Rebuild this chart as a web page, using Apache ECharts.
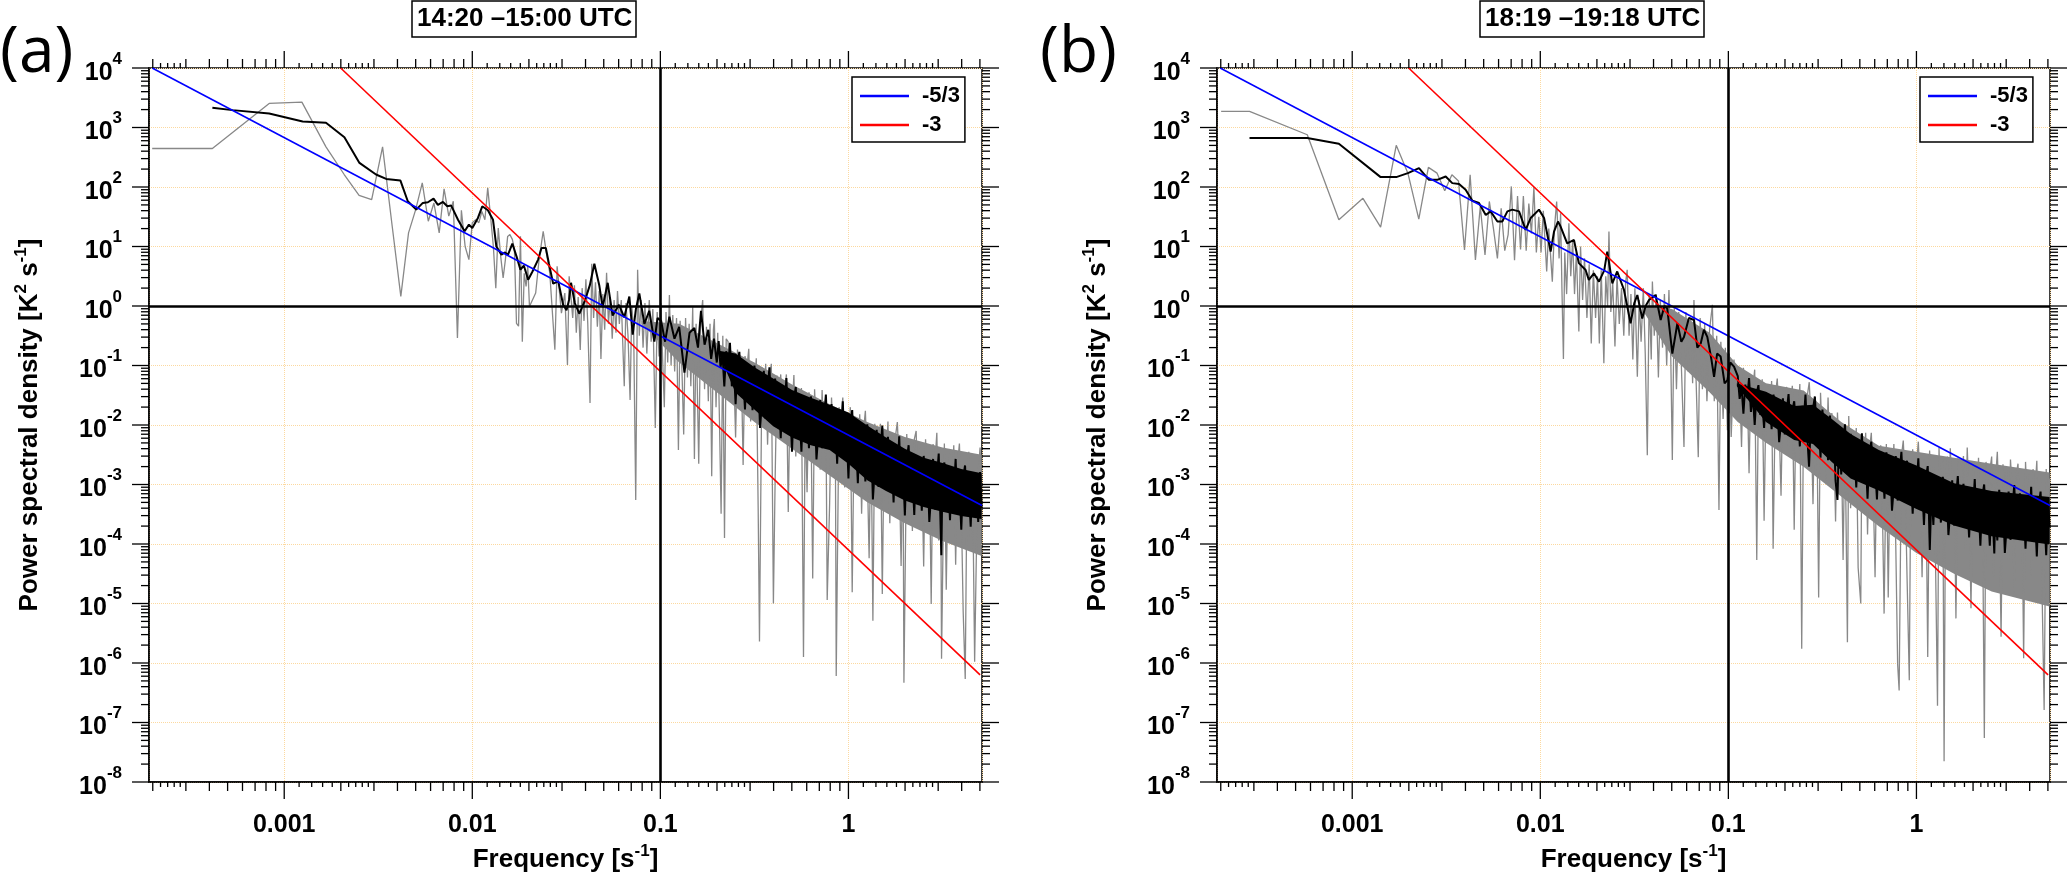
<!DOCTYPE html>
<html>
<head>
<meta charset="utf-8">
<script src="https://cdn.jsdelivr.net/npm/echarts@6.0.0/dist/echarts.min.js"></script>
<style>
html, body { margin: 0; padding: 0; background: #fff; }
#chart { width: 2067px; height: 881px; }
</style>
</head>
<body>
<div id="chart"></div>
<script>
// all spectra as [log10 frequency, log10 PSD]
var grayA = [
[-3.702,2.647],[-3.382,2.647],[-3.080,3.404],[-2.906,3.426],[-2.778,2.675],[-2.681,2.21],[-2.602,1.861],[-2.535,1.789],
[-2.477,2.675],[-2.426,1.345],[-2.380,0.162],[-2.339,1.228],[-2.301,1.62],[-2.266,2.069],[-2.234,1.424],[-2.204,1.73],
[-2.176,1.228],[-2.150,1.968],[-2.125,1.51],[-2.101,1.76],[-2.079,-0.539],[-2.058,1.61],[-2.038,1.0],[-2.018,0.78],
[-2.000,1.40],[-1.982,1.45],[-1.965,1.40],[-1.949,1.59],[-1.933,1.45],[-1.918,1.985],[-1.903,1.51],[-1.888,1.0],
[-1.875,0.30],[-1.862,1.31],[-1.849,0.835],[-1.836,0.47],[-1.824,0.78],[-1.812,1.17],[-1.800,1.2],[-1.787,1.12],
[-1.776,0.95],[-1.765,-0.29],[-1.754,-0.34],[-1.744,1.17],[-1.734,-0.6],[-1.724,0.55],[-1.714,0.33],[-1.705,0.67],
[-1.696,-0.01],[-1.663,0.218],[-1.645,0.78],[-1.623,1.256],[-1.606,0.89],[-1.588,0.555],[-1.561,-0.735],[-1.549,0.667],
[-1.526,-0.12],[-1.508,0.218],[-1.494,-0.99],[-1.485,0.50],
[-1.475,0.53],[-1.466,-0.20],[-1.457,0.35],[-1.447,-0.45],[-1.437,0.15],[-1.426,-0.74],[-1.416,0.30],[-1.406,-0.25],
[-1.396,0.45],[-1.386,-0.30],[-1.374,-1.63],[-1.365,0.71],[-1.355,-0.20],[-1.345,0.40],[-1.335,-0.35],[-1.325,0.25],
[-1.316,-0.89],[-1.306,0.20],[-1.296,-0.40],[-1.286,0.56],[-1.276,-0.30],[-1.266,0.15],[-1.256,-0.55],[-1.246,0.10],
[-1.236,-0.45],[-1.228,0.25],[-1.218,-0.30],[-1.208,0.10],[-1.192,-1.35],[-1.183,0.05],[-1.172,-0.50],[-1.161,-1.58],
[-1.152,0.00],[-1.142,-0.40],[-1.131,-3.26],[-1.121,0.61],[-1.112,-0.50],[-1.102,0.10],[-1.092,-0.70],[-1.082,0.05],
[-1.072,-0.80],[-1.059,0.10],[-1.049,-0.60],[-1.040,-0.05],[-1.027,-2.05],[-1.017,-0.10],[-1.007,-0.85],[-0.997,0.05],
[-0.988,-0.90],[-0.979,-1.70],[-0.970,-0.10],[-0.961,-0.95],[-0.952,0.185],[-0.943,-1.00],[-0.934,-0.15],[-0.924,-1.10],
[-0.914,-0.20],[-0.904,-2.42],[-0.895,-0.25],[-0.885,-1.10],[-0.876,-2.16],[-0.866,-0.20],[-0.856,-1.20],[-0.847,-0.30],
[-0.838,-1.35],[-0.828,-0.02],[-0.819,-2.57],[-0.810,-0.30],[-0.796,-2.65],[-0.786,-0.25],[-0.775,0.10],[-0.765,-1.40],
[-0.755,-0.35],[-0.745,-1.60],[-0.736,-0.30],[-0.727,-2.86],[-0.718,-0.40],[-0.713,-0.22],[-0.704,-1.70],[-0.695,-0.45],
[-0.686,-1.90],[-0.677,-3.49],[-0.668,-0.50],[-0.659,-3.90],[-0.650,-0.55],
[-0.64,-0.60],[-0.63,-1.47],[-0.62,-0.78],[-0.61,-1.05],[-0.60,-2.21],[-0.59,-0.73],[-0.58,-1.34],[-0.57,-0.96],[-0.56,-2.67],[-0.55,-0.84],
[-0.54,-1.05],[-0.53,-0.72],[-0.52,-1.94],[-0.51,-1.00],[-0.50,-1.37],[-0.49,-0.88],[-0.48,-3.40],[-0.473,-5.64],[-0.46,-1.03],[-0.45,-1.70],
[-0.44,-0.97],[-0.43,-2.33],[-0.42,-1.20],[-0.41,-0.97],[-0.399,-5.00],[-0.39,-2.95],[-0.38,-1.17],[-0.37,-1.48],[-0.36,-1.15],[-0.35,-2.17],
[-0.34,-1.48],[-0.33,-1.15],[-0.32,-3.46],[-0.31,-1.43],[-0.30,-1.80],[-0.29,-1.16],[-0.28,-2.53],[-0.27,-1.45],[-0.26,-2.16],[-0.25,-1.38],
[-0.239,-5.90],[-0.23,-1.81],[-0.22,-3.13],[-0.21,-1.45],[-0.20,-1.66],[-0.19,-4.58],[-0.18,-1.40],[-0.17,-2.21],[-0.16,-1.63],[-0.15,-2.75],
[-0.14,-1.41],[-0.13,-2.48],[-0.12,-1.64],[-0.113,-4.94],[-0.10,-3.32],[-0.09,-1.54],[-0.08,-2.31],[-0.07,-1.82],[-0.065,-6.22],[-0.05,-1.70],
[-0.04,-1.97],[-0.03,-1.54],[-0.02,-3.05],[-0.01,-1.87],[0.00,-2.33],[0.01,-1.70],[0.02,-4.81],[0.03,-2.13],[0.04,-1.89],[0.05,-2.71],
[0.06,-1.82],[0.07,-3.49],[0.08,-2.10],[0.09,-1.76],[0.10,-2.72],[0.11,-4.24],[0.12,-2.00],[0.13,-5.29],[0.14,-1.98],[0.15,-3.25],
[0.16,-2.36],[0.17,-1.98],[0.18,-4.84],[0.19,-2.26],[0.20,-2.77],[0.21,-1.94],[0.22,-3.65],[0.23,-2.27],[0.24,-3.13],[0.25,-2.19],
[0.26,-1.95],[0.27,-2.71],[0.28,-4.37],[0.29,-2.28],[0.295,-6.33],[0.31,-2.15],[0.32,-3.11],[0.33,-2.42],[0.34,-3.78],[0.35,-2.24],
[0.36,-2.10],[0.37,-3.36],[0.38,-2.37],[0.39,-2.72],[0.40,-4.38],[0.41,-2.24],[0.42,-3.10],[0.43,-2.55],[0.44,-5.01],[0.45,-2.32],
[0.46,-2.63],[0.47,-2.13],[0.48,-3.94],[0.49,-2.50],[0.495,-5.93],[0.51,-2.31],[0.52,-4.77],[0.53,-2.77],[0.54,-2.48],[0.55,-3.44],
[0.56,-2.34],[0.57,-4.35],[0.58,-2.66],[0.59,-2.31],[0.60,-3.37],[0.61,-5.13],[0.621,-6.27],[0.63,-3.04],[0.64,-2.45],[0.65,-3.95],
[0.66,-2.91],[0.671,-5.98],[0.68,-4.20],[0.69,-2.78],[0.70,-2.38],[0.708,-3.28]
];
var blackA = [
[-3.382,3.331],[-3.275,3.292],[-3.080,3.236],[-2.902,3.10],[-2.778,3.08],[-2.680,2.837],[-2.600,2.405],[-2.512,2.21],
[-2.458,2.136],[-2.382,2.108],[-2.343,1.76],[-2.298,1.62],[-2.263,1.733],[-2.236,1.744],[-2.206,1.805],[-2.183,1.70],
[-2.156,1.749],[-2.133,1.676],[-2.112,1.688],[-2.076,1.45],[-2.041,1.256],[-2.018,1.368],[-2.000,1.31],[-1.970,1.48],
[-1.947,1.676],[-1.917,1.61],[-1.890,1.45],[-1.872,1.0],[-1.845,0.863],[-1.828,0.90],[-1.810,0.863],[-1.787,1.05],
[-1.765,0.835],[-1.744,0.61],[-1.726,0.68],[-1.703,0.44],[-1.680,0.58],[-1.650,0.78],[-1.632,0.975],[-1.609,0.975],
[-1.593,0.72],[-1.570,0.375],[-1.543,0.415],[-1.517,0.02],[-1.499,-0.07],[-1.485,0.11],
[-1.475,0.39],[-1.455,0.05],[-1.431,-0.13],[-1.400,0.10],[-1.375,0.35],[-1.351,0.71],[-1.325,0.35],[-1.307,-0.02],
[-1.280,0.39],[-1.254,-0.16],[-1.220,0.02],[-1.192,-0.19],[-1.165,0.16],[-1.147,-0.48],[-1.130,-0.05],[-1.112,0.21],
[-1.085,-0.30],[-1.059,-0.08],[-1.032,-0.60],[-1.015,-0.20],[-0.996,-0.25],[-0.975,-0.60],[-0.952,-0.18],[-0.925,-0.55],
[-0.900,-0.35],[-0.872,-1.12],[-0.845,-0.45],[-0.819,-0.37],[-0.800,-0.70],[-0.784,-0.08],[-0.765,-0.65],[-0.745,-0.40],
[-0.730,-0.89],[-0.715,-0.55],[-0.700,-0.95],
[-0.69,-0.59],[-0.68,-1.04],[-0.67,-0.80],[-0.66,-1.35],[-0.65,-0.76],[-0.64,-1.06],[-0.63,-0.62],[-0.62,-1.35],[-0.61,-0.99],[-0.60,-1.65],
[-0.59,-0.95],[-0.58,-0.77],[-0.57,-1.44],[-0.56,-1.17],[-0.55,-1.74],[-0.54,-0.96],[-0.53,-1.40],[-0.52,-1.16],[-0.51,-1.75],[-0.50,-1.00],
[-0.49,-1.42],[-0.48,-1.15],[-0.47,-2.05],[-0.46,-1.63],[-0.45,-1.09],[-0.44,-1.90],[-0.43,-1.41],[-0.42,-1.03],[-0.41,-1.80],[-0.40,-1.43],
[-0.39,-1.22],[-0.38,-1.83],[-0.37,-1.49],[-0.36,-2.22],[-0.35,-1.42],[-0.34,-1.78],[-0.33,-1.21],[-0.32,-2.11],[-0.31,-1.66],[-0.30,-2.45],
[-0.29,-1.57],[-0.28,-1.36],[-0.27,-2.13],[-0.26,-1.79],[-0.25,-2.45],[-0.24,-1.53],[-0.23,-2.00],[-0.22,-1.72],[-0.21,-2.39],[-0.20,-1.52],
[-0.19,-1.93],[-0.18,-1.65],[-0.17,-2.58],[-0.16,-2.14],[-0.15,-1.58],[-0.14,-2.39],[-0.13,-1.88],[-0.12,-1.49],[-0.11,-2.26],[-0.10,-1.86],
[-0.09,-1.65],[-0.08,-2.26],[-0.07,-1.91],[-0.06,-2.65],[-0.05,-1.82],[-0.04,-2.19],[-0.03,-1.60],[-0.02,-2.54],[-0.01,-2.05],[0.00,-2.90],
[0.01,-1.99],[0.02,-1.75],[0.03,-2.61],[0.04,-2.24],[0.05,-2.98],[0.06,-1.96],[0.07,-2.50],[0.08,-2.20],[0.09,-2.95],[0.10,-1.99],
[0.11,-2.47],[0.12,-2.16],[0.13,-3.25],[0.14,-2.73],[0.15,-2.08],[0.16,-3.04],[0.17,-2.46],[0.18,-2.01],[0.19,-2.90],[0.20,-2.45],
[0.21,-2.20],[0.22,-2.87],[0.23,-2.50],[0.24,-3.30],[0.25,-2.41],[0.26,-2.82],[0.27,-2.19],[0.28,-3.18],[0.29,-2.68],[0.30,-3.52],
[0.31,-2.58],[0.32,-2.34],[0.33,-3.17],[0.34,-2.81],[0.35,-3.51],[0.36,-2.53],[0.37,-3.04],[0.38,-2.74],[0.39,-3.44],[0.40,-2.52],
[0.41,-2.95],[0.42,-2.66],[0.43,-3.63],[0.44,-3.16],[0.45,-2.57],[0.46,-3.42],[0.47,-2.89],[0.48,-2.48],[0.494,-4.19],[0.50,-2.86],
[0.51,-2.63],[0.52,-3.23],[0.53,-2.88],[0.54,-3.60],[0.55,-2.79],[0.56,-3.15],[0.57,-2.57],[0.58,-3.47],[0.59,-3.00],[0.60,-3.76],
[0.61,-2.89],[0.62,-2.68],[0.63,-3.41],[0.64,-3.08],[0.65,-3.71],[0.66,-2.82],[0.67,-3.28],[0.68,-3.00],[0.69,-3.63],[0.70,-2.79],
[0.708,-3.40]
];
// [log10 f, upper, lower] of the solid-looking core of each dense trace
var grayBandA = [[-1.10,-0.25,-0.30],[-0.90,-0.30,-0.95],[-0.70,-0.62,-1.45],[-0.50,-0.95,-1.95],[-0.30,-1.32,-2.40],
  [-0.10,-1.65,-2.85],[0.10,-1.95,-3.30],[0.30,-2.20,-3.65],[0.50,-2.38,-3.95],[0.708,-2.50,-4.20]];
var blackBandA = [[-0.69,-0.75,-0.80],[-0.60,-0.80,-1.46],[-0.50,-1.03,-1.74],[-0.40,-1.22,-2.02],[-0.30,-1.41,-2.21],
  [-0.20,-1.54,-2.34],[-0.10,-1.66,-2.42],[0.00,-1.79,-2.65],[0.10,-2.01,-2.93],[0.20,-2.21,-3.11],[0.30,-2.40,-3.27],
  [0.40,-2.55,-3.38],[0.50,-2.64,-3.46],[0.60,-2.74,-3.53],[0.708,-2.81,-3.58]];

var grayB = [
[-3.697,3.271],[-3.546,3.271],[-3.239,2.878],[-3.071,1.448],[-2.943,1.81],[-2.849,1.325],[-2.766,2.70],[-2.704,2.233],
[-2.646,1.46],[-2.595,2.33],[-2.549,2.233],[-2.508,1.936],[-2.470,2.205],[-2.435,2.10],[-2.403,0.943],[-2.373,2.205],
[-2.345,0.775],[-2.319,1.672],[-2.294,0.859],[-2.271,1.757],[-2.249,1.30],[-2.228,0.80],[-2.208,1.64],[-2.189,0.93],
[-2.171,1.2],[-2.154,2.01],[-2.137,0.77],[-2.121,1.85],[-2.105,0.95],[-2.090,1.85],[-2.075,0.93],[-2.061,1.72],
[-2.047,1.22],[-2.034,2.0],[-2.021,0.9],[-2.008,1.5],[-1.996,0.9],[-1.984,1.6],[-1.966,0.58],[-1.955,1.3],
[-1.936,0.41],[-1.925,1.3],[-1.913,1.757],[-1.900,0.8],[-1.892,1.56],[-1.885,0.3],[-1.877,-0.89],[-1.870,0.9],
[-1.860,0.2],[-1.848,1.39],[-1.838,0.5],[-1.828,1.1],[-1.818,0.2],[-1.808,0.9],[-1.795,-0.43],[-1.786,1.0],
[-1.775,0.1],[-1.765,0.8],[-1.752,-0.2],[-1.740,0.7],[-1.729,-0.63],[-1.718,0.6],[-1.706,-0.2],[-1.696,0.5],
[-1.686,-0.63],[-1.676,0.6],[-1.662,-0.96],[-1.652,0.5],[-1.642,0.0],[-1.635,1.25],[-1.625,-0.1],[-1.615,0.4],
[-1.603,-0.68],[-1.592,0.5],[-1.580,-0.3],[-1.568,0.3],[-1.556,-0.5],[-1.546,0.4],[-1.538,0.61],[-1.528,-0.5],
[-1.518,0.2],[-1.508,-0.9],[-1.497,0.3],[-1.484,-1.19],[-1.474,0.1],[-1.464,-0.6],[-1.452,0.3],[-1.442,-0.8],
[-1.431,-2.51],[-1.421,0.2],[-1.410,-0.9],[-1.404,0.41],[-1.394,-0.5],[-1.384,0.2],[-1.372,-1.2],[-1.362,0.1],
[-1.350,-0.7],[-1.340,0.2],[-1.328,-1.0],[-1.316,0.27],[-1.306,-0.9],[-1.298,-2.59],[-1.288,0.0],[-1.276,-1.4],
[-1.264,-0.1],[-1.250,-1.0],[-1.236,-2.37],[-1.226,-0.1],[-1.214,-1.1],[-1.200,-0.2],[-1.190,-1.3],[-1.183,0.10],
[-1.172,-1.2],[-1.160,-2.54],[-1.150,-0.2],[-1.138,-1.4],[-1.126,-0.3],[-1.114,-1.6],[-1.100,-0.4],[-1.085,0.02],
[-1.075,-1.6],[-1.062,-0.5],[-1.050,-3.43],[-1.040,-0.6],[-1.028,-1.9],[-1.016,-0.7],[-1.005,-2.09],[-0.995,-0.8],
[-0.985,-2.2],
[-0.97,-0.90],[-0.96,-1.68],[-0.95,-1.07],[-0.94,-1.32],[-0.93,-2.37],[-0.92,-1.04],[-0.91,-1.60],[-0.90,-1.26],[-0.89,-2.81],[-0.88,-1.17],
[-0.87,-1.38],[-0.86,-1.07],[-0.849,-4.27],[-0.84,-1.35],[-0.83,-1.70],[-0.82,-1.23],[-0.81,-3.61],[-0.80,-1.52],[-0.79,-1.34],[-0.78,-1.96],
[-0.77,-1.26],[-0.762,-4.08],[-0.75,-1.49],[-0.74,-1.22],[-0.73,-1.97],[-0.72,-3.19],[-0.71,-1.40],[-0.70,-1.73],[-0.69,-1.36],[-0.68,-2.37],
[-0.67,-1.67],[-0.66,-1.34],[-0.65,-3.76],[-0.64,-1.58],[-0.63,-1.99],[-0.62,-1.31],[-0.610,-5.76],[-0.60,-1.55],[-0.59,-2.30],[-0.58,-1.50],
[-0.57,-1.28],[-0.56,-1.94],[-0.55,-3.33],[-0.54,-1.53],[-0.53,-1.72],[-0.52,-4.90],[-0.51,-1.46],[-0.50,-2.33],[-0.49,-1.77],[-0.48,-2.94],
[-0.47,-1.54],[-0.46,-2.65],[-0.45,-1.80],[-0.44,-2.15],[-0.43,-3.62],[-0.42,-1.79],[-0.41,-2.58],[-0.40,-2.11],[-0.39,-4.27],[-0.38,-2.00],
[-0.367,-5.65],[-0.36,-1.85],[-0.35,-3.40],[-0.34,-2.20],[-0.33,-2.67],[-0.32,-2.05],[-0.31,-4.40],[-0.296,-5.00],[-0.29,-2.23],[-0.28,-3.08],
[-0.27,-2.13],[-0.26,-3.84],[-0.25,-2.43],[-0.24,-2.13],[-0.23,-3.05],[-0.22,-4.56],[-0.21,-2.37],[-0.20,-2.78],[-0.19,-2.34],[-0.18,-3.59],
[-0.172,-5.17],[-0.16,-2.32],[-0.15,-4.90],[-0.14,-2.61],[-0.13,-3.09],[-0.12,-2.32],[-0.11,-4.00],[-0.100,-6.02],[-0.092,-6.46],[-0.08,-2.53],
[-0.07,-2.26],[-0.06,-3.01],[-0.05,-4.55],[-0.038,-6.29],[-0.03,-2.74],[-0.02,-2.41],[-0.01,-3.35],[0.00,-2.68],[0.01,-2.28],[0.02,-3.03],
[0.03,-4.56],[0.04,-2.56],[0.05,-2.76],[0.06,-5.90],[0.07,-2.43],[0.08,-3.37],[0.09,-2.70],[0.10,-3.97],[0.112,-6.72],[0.12,-2.38],
[0.13,-3.51],[0.14,-2.59],[0.147,-7.65],[0.155,-2.92],[0.165,-2.53],[0.17,-3.83],[0.18,-2.39],[0.19,-3.24],[0.20,-2.75],[0.21,-5.25],
[0.22,-2.56],[0.23,-3.56],[0.24,-2.87],[0.25,-2.52],[0.26,-4.12],[0.27,-2.38],[0.28,-3.24],[0.29,-5.08],[0.30,-2.69],[0.31,-2.94],
[0.32,-3.60],[0.33,-2.55],[0.34,-3.70],[0.35,-2.91],[0.361,-7.26],[0.37,-2.62],[0.38,-3.82],[0.39,-2.78],[0.40,-2.53],[0.41,-4.54],
[0.42,-2.94],[0.43,-2.45],[0.44,-3.45],[0.45,-5.56],[0.46,-2.66],[0.47,-3.22],[0.48,-2.77],[0.49,-4.28],[0.50,-2.58],[0.51,-3.14],
[0.52,-4.89],[0.53,-2.85],[0.54,-2.65],[0.55,-3.81],[0.56,-3.01],[0.57,-5.92],[0.58,-2.62],[0.59,-3.43],[0.60,-2.83],[0.61,-4.54],
[0.62,-2.74],[0.63,-3.15],[0.64,-2.60],[0.65,-4.06],[0.66,-2.97],[0.67,-5.17],[0.679,-6.79],[0.69,-2.74],[0.70,-3.60],[0.708,-2.90]
];
var blackB = [
[-3.546,2.822],[-3.239,2.822],[-3.071,2.727],[-2.849,2.166],[-2.766,2.166],[-2.704,2.233],[-2.645,2.317],[-2.592,2.12],
[-2.548,2.12],[-2.503,2.177],[-2.468,2.065],[-2.432,2.05],[-2.397,1.953],[-2.361,1.77],[-2.326,1.73],[-2.290,1.53],
[-2.264,1.59],[-2.228,1.42],[-2.202,1.42],[-2.175,1.59],[-2.149,1.62],[-2.113,1.59],[-2.078,1.28],[-2.051,1.48],
[-2.007,1.62],[-1.980,1.48],[-1.945,0.915],[-1.927,1.25],[-1.906,1.42],
[-1.892,1.335],[-1.857,1.054],[-1.821,1.11],[-1.795,0.72],[-1.759,0.606],[-1.742,0.44],[-1.715,0.55],[-1.688,0.41],
[-1.660,0.60],[-1.644,0.914],[-1.617,0.38],[-1.591,0.58],[-1.555,0.27],[-1.520,-0.29],[-1.500,0.05],[-1.484,0.185],
[-1.458,-0.21],[-1.440,0.0],[-1.422,0.10],[-1.387,0.185],[-1.360,-0.235],[-1.340,0.0],[-1.325,-0.04],[-1.298,-0.80],
[-1.271,-0.29],[-1.250,-0.60],[-1.236,-0.52],[-1.210,-0.20],[-1.183,-0.235],[-1.165,-0.70],[-1.147,-0.63],[-1.130,-0.40],
[-1.112,-0.52],[-1.090,-0.90],[-1.076,-1.19],[-1.060,-0.80],[-1.041,-0.85],[-1.020,-1.30],[-1.005,-1.245],[-0.990,-0.95],
[-0.970,-1.02],
[-0.95,-1.18],[-0.94,-1.56],[-0.93,-1.36],[-0.92,-1.81],[-0.91,-1.32],[-0.90,-1.55],[-0.89,-1.21],[-0.88,-1.78],[-0.87,-1.50],[-0.86,-2.00],
[-0.85,-1.46],[-0.84,-1.33],[-0.83,-1.83],[-0.82,-1.62],[-0.81,-2.05],[-0.80,-1.46],[-0.79,-1.79],[-0.78,-1.61],[-0.77,-2.07],[-0.76,-1.49],
[-0.75,-1.80],[-0.74,-1.60],[-0.73,-2.29],[-0.72,-1.96],[-0.71,-1.55],[-0.70,-2.16],[-0.69,-1.77],[-0.68,-1.48],[-0.67,-2.07],[-0.66,-1.76],
[-0.65,-1.60],[-0.64,-2.07],[-0.63,-1.79],[-0.62,-2.36],[-0.61,-1.68],[-0.60,-1.97],[-0.59,-1.49],[-0.58,-2.21],[-0.571,-2.70],[-0.56,-1.82],
[-0.55,-1.73],[-0.54,-1.52],[-0.53,-2.20],[-0.52,-1.93],[-0.51,-2.55],[-0.50,-1.74],[-0.49,-2.20],[-0.48,-1.98],[-0.47,-2.59],[-0.46,-1.84],
[-0.45,-2.27],[-0.44,-2.02],[-0.43,-2.94],[-0.42,-3.26],[-0.41,-2.02],[-0.40,-2.83],[-0.39,-2.36],[-0.38,-1.99],[-0.37,-2.72],[-0.36,-2.35],
[-0.35,-2.15],[-0.34,-2.70],[-0.33,-2.39],[-0.32,-3.05],[-0.31,-2.32],[-0.30,-2.66],[-0.29,-2.14],[-0.28,-2.96],[-0.27,-2.55],[-0.26,-3.24],
[-0.25,-2.47],[-0.24,-2.28],[-0.23,-2.96],[-0.22,-2.67],[-0.21,-3.25],[-0.20,-2.45],[-0.19,-2.89],[-0.18,-2.64],[-0.17,-3.24],[-0.16,-2.46],
[-0.15,-2.83],[-0.14,-2.59],[-0.13,-3.44],[-0.12,-3.03],[-0.11,-2.52],[-0.10,-3.27],[-0.09,-2.81],[-0.08,-2.45],[-0.07,-3.14],[-0.06,-2.80],
[-0.05,-2.60],[-0.04,-3.14],[-0.03,-2.84],[-0.02,-3.49],[-0.01,-2.75],[0.00,-3.09],[0.01,-2.56],[0.02,-3.38],[0.03,-2.96],[0.04,-3.68],
[0.05,-2.89],[0.06,-2.69],[0.071,-4.10],[0.08,-3.09],[0.09,-3.68],[0.10,-2.86],[0.11,-3.29],[0.12,-3.05],[0.13,-3.64],[0.14,-2.87],
[0.15,-3.24],[0.16,-3.00],[0.17,-3.85],[0.18,-3.45],[0.19,-2.93],[0.20,-3.69],[0.21,-3.23],[0.22,-2.86],[0.23,-3.55],[0.24,-3.19],
[0.25,-2.99],[0.26,-3.55],[0.27,-3.22],[0.28,-3.89],[0.29,-3.12],[0.30,-3.46],[0.31,-2.91],[0.32,-3.75],[0.33,-3.31],[0.34,-4.03],
[0.35,-3.21],[0.36,-3.00],[0.37,-3.74],[0.38,-3.40],[0.39,-4.03],[0.40,-3.14],[0.414,-4.16],[0.42,-3.31],[0.43,-3.94],[0.44,-3.09],
[0.45,-3.51],[0.46,-3.22],[0.47,-4.15],[0.48,-3.69],[0.49,-3.12],[0.50,-3.93],[0.51,-3.41],[0.52,-3.01],[0.53,-3.77],[0.54,-3.37],
[0.55,-3.15],[0.56,-3.73],[0.57,-3.38],[0.58,-4.08],[0.59,-3.27],[0.60,-3.62],[0.61,-3.04],[0.62,-3.92],[0.63,-3.46],[0.64,-4.21],
[0.65,-3.35],[0.66,-3.12],[0.67,-3.89],[0.68,-3.53],[0.69,-4.19],[0.70,-3.25],[0.708,-3.72]
];
var grayBandB = [[-1.45,0.00,-0.10],[-1.30,-0.05,-0.85],[-1.10,-0.45,-1.45],[-0.95,-1.00,-1.95],[-0.80,-1.30,-2.30],
  [-0.60,-1.42,-2.70],[-0.40,-1.95,-3.20],[-0.20,-2.35,-3.70],[0.00,-2.45,-4.15],[0.20,-2.55,-4.50],[0.40,-2.65,-4.80],
  [0.708,-2.80,-5.05]];
var blackBandB = [[-0.955,-1.30,-1.35],[-0.80,-1.44,-1.95],[-0.65,-1.68,-2.25],[-0.55,-1.66,-2.32],[-0.45,-1.90,-2.62],
  [-0.35,-2.15,-2.90],[-0.20,-2.42,-3.10],[0.00,-2.68,-3.41],[0.20,-2.98,-3.69],[0.40,-3.11,-3.87],[0.708,-3.21,-4.01]];

// reference slopes, end points [log10 f, log10 PSD]
var slopeM53 = [[-3.702,4.0],[0.710,-3.353]];
var slopeM3 = [[-2.700,4.0],[0.700,-6.2]];

var panelTitles = ['14:20 \u201315:00 UTC', '18:19 \u201319:18 UTC'];
var panelTags = ['(a)', '(b)'];
var legendNames = ['-5/3', '-3'];

var xMin = 1.91e-4, xMax = 5.13, yMin = 1e-8, yMax = 1e4;
var minorMant = [2, 3, 4, 5, 6, 7, 8, 9];
var subMant = [1.2, 1.4, 1.6, 1.8, 2.2, 2.4, 2.6, 2.8];

var F = 'Liberation Sans, Arial, sans-serif';
var gridLefts = [149, 1217];
var GRID_TOP = 68, GRID_W = 833, GRID_H = 714;

function pts(arr) {
  return arr.map(function (d) { return [Math.pow(10, d[0]), Math.pow(10, d[1])]; });
}
function decade(v) {
  var l = Math.log10(v), e = Math.round(l);
  return Math.abs(l - e) < 1e-6 ? e : null;
}

var xTicks = [], yTicks = [];
for (var d = -4; d <= 0; d++) {
  var p = Math.pow(10, d);
  xTicks.push([p, 17]);
  minorMant.forEach(function (m) { xTicks.push([m * p, 9]); });
  subMant.forEach(function (m) { xTicks.push([m * p, 5]); });
}
for (var e = -8; e <= 4; e++) {
  var q = Math.pow(10, e);
  yTicks.push([q, 17]);
  if (e < 4) minorMant.forEach(function (m) { yTicks.push([m * q, 8]); });
}

var richLab = {
  b: { fontSize: 25, fontWeight: 'bold', fontFamily: F, color: '#000', padding: [10, 0, 0, 0] },
  s: { fontSize: 17, fontWeight: 'bold', fontFamily: F, color: '#000', verticalAlign: 'top' }
};
var richName = {
  t: { fontSize: 26, fontWeight: 'bold', fontFamily: F, color: '#000', padding: [4, 0, 0, 0] },
  s: { fontSize: 17, fontWeight: 'bold', fontFamily: F, color: '#000', verticalAlign: 'top' }
};

function bandSeries(gi, band, color, z) {
  return {
    type: 'custom', xAxisIndex: gi, yAxisIndex: gi, silent: true, z: z,
    data: [[1, 1]],
    renderItem: function (params, api) {
      var up = band.map(function (b) { return api.coord([Math.pow(10, b[0]), Math.pow(10, b[1])]); });
      var lo = band.slice().reverse().map(function (b) { return api.coord([Math.pow(10, b[0]), Math.pow(10, b[2])]); });
      return { type: 'polygon', shape: { points: up.concat(lo) }, style: { fill: color } };
    }
  };
}

function tickSeries(gi) {
  return {
    type: 'custom', xAxisIndex: gi, yAxisIndex: gi, silent: true, z: 10, clip: false,
    data: [[1, 1]],
    renderItem: function (params, api) {
      var cs = params.coordSys;
      var L = cs.x, R = cs.x + cs.width, T = cs.y, B = cs.y + cs.height;
      var kids = [];
      function seg(x1, y1, x2, y2) {
        kids.push({ type: 'line', shape: { x1: x1, y1: y1, x2: x2, y2: y2 }, style: { stroke: '#000', lineWidth: 1.3 } });
      }
      xTicks.forEach(function (t) {
        var px = api.coord([t[0], 1])[0];
        if (px < L - 0.5 || px > R + 0.5) return;
        seg(px, B, px, B + t[1]);
        seg(px, T, px, T - t[1]);
      });
      yTicks.forEach(function (t) {
        var py = api.coord([1, t[0]])[1];
        if (py < T - 0.5 || py > B + 0.5) return;
        seg(L, py, L - t[1], py);
        seg(R, py, R + t[1], py);
      });
      return { type: 'group', children: kids };
    }
  };
}

function lineSeries(gi, name, data, color, width, z, extra) {
  var s = {
    type: 'line', name: name, xAxisIndex: gi, yAxisIndex: gi, data: pts(data),
    showSymbol: false, symbol: 'none', color: color, z: z, silent: true,
    lineStyle: { color: color, width: width }
  };
  for (var k in extra) s[k] = extra[k];
  return s;
}

var panels = [
  { gray: grayA, black: blackA, gBand: grayBandA, kBand: blackBandA },
  { gray: grayB, black: blackB, gBand: grayBandB, kBand: blackBandB }
];

var grids = [], xAxes = [], yAxes = [], series = [], legends = [], titles = [], graphics = [];
panels.forEach(function (pn, gi) {
  var left = gridLefts[gi];
  grids.push({ left: left, top: GRID_TOP, width: GRID_W, height: GRID_H, show: true,
    borderColor: '#000', borderWidth: 1.5, backgroundColor: 'transparent' });
  xAxes.push({
    type: 'log', gridIndex: gi, min: xMin, max: xMax, splitNumber: 5,
    axisLine: { show: true, onZero: false, lineStyle: { color: '#000', width: 1.5 } },
    axisTick: { show: false },
    axisLabel: {
      margin: 31, fontSize: 25, fontWeight: 'bold', fontFamily: F, color: '#000',
      formatter: function (v) {
        var e = decade(v);
        if (e === null) return '';
        return e >= 0 ? String(Math.pow(10, e)) : Math.pow(10, e).toFixed(-e);
      }
    },
    splitLine: { show: true, lineStyle: { color: '#fcd9a0', type: 'dotted', width: 1 } },
    name: '{t|Frequency [s}{s|-1}{t|]}', nameLocation: 'middle', nameGap: 60,
    nameTextStyle: { rich: richName }
  });
  yAxes.push({
    type: 'log', gridIndex: gi, min: yMin, max: yMax, interval: 1,
    axisLine: { show: true, onZero: false, lineStyle: { color: '#000', width: 1.5 } },
    axisTick: { show: false },
    axisLabel: {
      margin: 27, rich: richLab,
      formatter: function (v) {
        var e = decade(v);
        return e === null ? '' : '{b|10}{s|' + e + '}';
      }
    },
    splitLine: { show: true, lineStyle: { color: '#fcd9a0', type: 'dotted', width: 1 } },
    name: '{t|Power spectral density [K}{s|2}{t| s}{s|-1}{t|]}', nameLocation: 'middle', nameGap: 106,
    nameTextStyle: { rich: richName }
  });

  series.push(bandSeries(gi, pn.gBand, '#888888', 2));
  series.push(lineSeries(gi, 'raw', pn.gray, '#888888', 1.3, 2, {}));
  series.push(bandSeries(gi, pn.kBand, '#000000', 3));
  series.push(lineSeries(gi, 'smoothed', pn.black, '#000000', 2.0, 3, {}));
  series.push(lineSeries(gi, legendNames[0], slopeM53, '#0000ff', 1.6, 4, {
    markLine: {
      silent: true, symbol: 'none', label: { show: false },
      lineStyle: { color: '#000', width: 2.6, type: 'solid' },
      data: [{ yAxis: 1 }, { xAxis: 0.1 }]
    }
  }));
  series.push(lineSeries(gi, legendNames[1], slopeM3, '#ff0000', 1.6, 4, {}));
  series.push(tickSeries(gi));

  legends.push({
    data: legendNames, orient: 'vertical', left: left + 703, top: 77, selectedMode: false,
    icon: 'rect', itemWidth: 49, itemHeight: 2.5, itemGap: 7,
    borderColor: '#000', borderWidth: 1.5, padding: [8, 5, 6, 8], backgroundColor: '#fff',
    textStyle: { fontSize: 22, fontWeight: 'bold', fontFamily: F, color: '#000', padding: [0, 0, 0, 8], lineHeight: 22 }
  });
  titles.push({
    text: panelTitles[gi], left: left + 263, top: 1,
    borderColor: '#000', borderWidth: 1.5, padding: [3, 4, 3, 5],
    textStyle: { fontSize: 26, fontWeight: 'bold', fontFamily: F, color: '#000', lineHeight: 30 }
  });
  graphics.push({
    type: 'text', left: gi === 0 ? 0 : 1040, top: 22,
    style: { text: panelTags[gi], fontSize: 64, fontFamily: 'Open Sans', fill: '#000' }
  });
});

var chart = echarts.init(document.getElementById('chart'));
chart.setOption({
  animation: false,
  backgroundColor: '#fff',
  title: titles,
  legend: legends,
  grid: grids,
  xAxis: xAxes,
  yAxis: yAxes,
  series: series,
  graphic: graphics
});
</script>
</body>
</html>
